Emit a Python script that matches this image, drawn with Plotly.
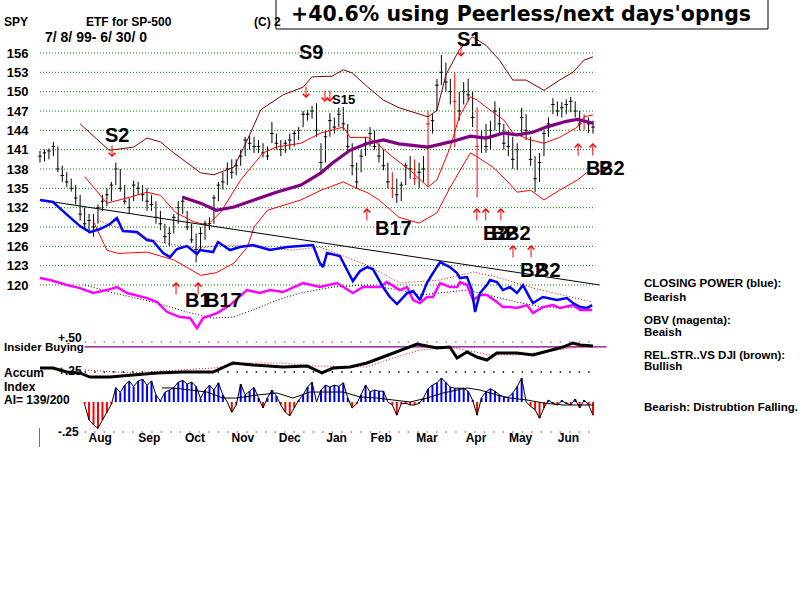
import plotly.graph_objects as go

FONT = "Liberation Sans, Arial, sans-serif"
TITLE_FONT = "DejaVu Sans, Liberation Sans, sans-serif"

# ---------------- data ----------------
# price bars: one bar every 2 trading days (day index 0 = 7/8/99)
bar_day = list(range(0, 249, 2))
bar_high = [140.8,141.0,141.2,142.2,141.5,138.5,137.5,136.5,135.5,134.0,
            132.0,131.0,131.0,132.5,134.0,135.0,136.0,139.0,138.0,135.5,
            133.5,136.2,136.0,135.5,135.0,134.0,133.0,131.5,129.5,129.0,
            131.0,133.0,133.8,131.5,129.5,128.0,129.0,130.0,130.5,134.0,
            136.0,137.5,139.0,139.5,139.5,141.0,143.0,143.2,143.0,142.5,
            142.0,141.5,145.3,143.5,142.5,142.5,143.5,144.0,144.5,147.0,
            147.2,147.8,148.2,142.0,144.0,146.7,146.0,147.5,147.6,145.0,
            142.0,139.0,141.0,143.0,144.5,144.0,142.0,141.0,139.0,137.5,
            136.5,136.0,139.0,140.0,139.5,139.0,140.0,147.0,146.5,152.0,
            155.7,154.5,152.0,153.0,150.0,151.5,152.0,150.0,147.6,144.0,
            145.0,145.5,148.5,147.5,145.0,144.0,143.0,142.0,147.5,146.5,
            143.0,140.0,140.5,144.0,146.0,149.0,148.5,148.4,148.8,149.2,
            148.5,147.0,146.5,146.0,145.5]
bar_low = [139.0,139.2,139.5,140.0,137.5,136.0,135.2,134.5,132.5,130.0,
           128.5,128.0,127.5,129.5,131.5,132.2,133.0,135.5,134.5,132.5,
           131.0,133.0,134.0,133.0,131.5,131.5,129.5,128.5,126.5,126.0,
           128.0,129.5,131.0,128.5,126.5,123.5,125.5,127.0,128.5,129.5,
           133.0,134.8,135.5,136.5,137.0,138.5,140.0,141.0,140.5,140.5,
           139.8,139.4,142.0,141.0,140.0,140.5,141.0,141.5,142.5,144.5,
           145.5,145.8,143.0,137.5,139.0,143.0,143.5,144.5,144.0,140.5,
           137.0,135.0,137.5,140.0,141.5,141.0,139.0,137.8,135.0,133.5,
           132.7,133.0,135.5,136.5,135.5,135.0,136.0,135.2,143.5,147.0,
           151.0,150.0,148.0,141.4,145.5,148.0,148.5,144.5,133.6,140.5,
           140.5,141.0,144.0,143.5,141.0,140.0,138.0,137.8,143.0,142.5,
           138.5,134.4,136.0,140.0,143.0,146.5,146.2,146.0,146.5,146.8,
           146.0,144.0,144.0,143.6,143.5]
bar_close = [140.0,140.5,140.8,141.5,138.0,137.0,136.0,135.0,133.5,131.0,
             129.5,130.0,129.0,132.0,133.0,134.0,135.5,138.0,135.0,133.0,
             132.0,135.5,135.0,134.0,133.0,132.5,130.5,129.5,127.5,128.0,
             130.5,132.0,133.0,129.0,127.0,125.5,128.0,129.5,129.5,133.5,
             135.5,136.0,138.0,137.5,138.5,140.0,142.5,142.0,141.5,141.5,
             140.5,140.0,143.5,142.0,141.0,142.0,142.5,143.5,144.0,146.5,
             146.5,147.0,144.0,139.0,143.0,145.5,144.5,146.5,145.0,141.5,
             138.5,136.0,140.0,142.0,143.5,141.5,140.0,138.5,136.0,135.0,
             134.0,135.5,138.5,138.0,136.5,137.5,138.0,145.0,145.5,151.0,
             153.0,151.5,150.0,148.5,147.0,150.0,149.5,146.0,141.5,143.0,
             141.5,144.0,147.0,145.0,142.0,141.5,139.5,141.0,146.0,144.0,
             139.5,136.5,139.0,143.5,145.0,148.0,147.0,147.5,148.0,148.5,
             147.0,145.0,145.5,145.0,144.5]
signal_bar_idx = [79, 84, 87, 93, 98, 122]

price_ticks = [120, 123, 126, 129, 132, 135, 138, 141, 144, 147, 150, 153, 156]
month_labels = ["Aug", "Sep", "Oct", "Nov", "Dec", "Jan", "Feb", "Mar", "Apr", "May", "Jun"]
month_day = [27, 49, 69.5, 91, 112, 133, 153, 173.5, 195.5, 215.5, 237]

upper_band_day = [18,31,42,48,54,60,72,78,87,93,99,109,118,122,131,136,140,147,154,161,
                  174,178,182,188,194,200,206,212,218,226,233,239,244,248]
upper_band = [145.0,140.9,141.4,142.8,142.2,140.5,137.4,137.1,138.3,142.5,147.2,149.5,150.7,
              152.3,152.4,153.4,152.9,150.7,148.7,147.5,146.1,147.1,152.6,156.5,158.5,157.2,
              154.9,151.8,151.8,150.2,151.8,153.0,154.9,155.4]
mid_band_day = [20,30,40,48,54,61,69,75,81,90,100,106,117,126,136,139,147,151,158,166,
                174,178,184,188,193,196,200,208,212,220,226,233,241,244,248]
mid_band = [136.8,132.7,133.6,134.4,133.9,131.2,129.8,129.3,131.3,136.3,140.5,141.4,142.0,
            143.6,144.5,142.9,142.9,142.0,139.9,137.8,135.2,136.3,141.4,146.1,149.2,148.7,
            147.6,145.6,143.6,142.5,142.0,142.9,144.5,146.1,146.4]
lower_band_day = [24,30,35,48,60,72,79,87,93,96,102,117,126,136,142,147,152,161,170,178,
                  184,193,196,203,209,214,220,226,233,241,245,248]
lower_band = [129.8,125.4,124.9,125.1,123.9,121.5,121.9,123.4,125.9,129.0,131.6,133.2,134.7,
              136.0,135.0,134.3,133.2,130.5,129.6,131.2,135.2,140.5,139.9,138.3,136.3,134.4,
              134.7,133.2,134.7,136.3,137.4,137.5]
long_ma_day = [64,72,79,87,96,106,117,126,131,139,147,154,161,174,184,193,200,208,214,221,
               227,236,241,248]
long_ma = [133.6,132.7,131.6,132.1,133.2,134.4,135.5,137.4,138.9,140.9,142.0,142.5,141.9,
           141.4,142.2,143.1,142.8,143.6,143.3,143.7,144.5,145.4,145.7,145.1]
trend_day = [0, 251]
trend_value = [133.2, 120.0]

cp_day = [0,5.8,10.3,17.9,22.4,26.9,31.4,34.5,37.2,43.5,48.0,50.7,55.2,58.3,61.4,65.9,70.4,
          71.7,77.6,79.8,85.2,89.7,95.5,103.1,110.8,119.7,122.4,125.5,126.9,128.7,134.5,137.7,
          140.3,143.5,146.6,149.3,153.8,156.9,160.1,164.6,167.3,170.4,173.5,176.2,179.4,183.8,
          187.0,188.3,191.5,193.7,195.1,197.3,200.4,201.8,204.9,207.6,210.7,213.9,216.6,219.7,
          221.1,225.5,231.8,236.3,239.0,242.2,245.3,247.6]
closing_power = [133.18,132.87,131.47,129.14,128.21,128.68,129.46,130.39,128.37,128.21,126.97,
                 126.82,124.95,124.33,125.58,126.04,124.80,125.42,125.11,126.66,125.42,125.89,
                 126.20,125.42,125.89,126.20,126.20,123.40,122.78,124.95,124.49,122.32,120.61,
                 122.16,122.78,122.47,119.68,118.13,117.04,118.75,119.06,117.66,120.30,121.85,
                 123.56,122.78,121.85,121.07,121.23,119.21,115.80,118.75,119.99,120.77,120.46,
                 119.21,119.68,118.75,119.99,117.97,117.19,118.13,117.66,117.97,117.19,116.57,
                 116.42,116.88]
cp_ma_day = [25.6,40.4,55.2,70.4,85.2,113.5,125.5,146.6,161.4,179.4,194.2,204.9,221.1,247.6]
cp_ma = [130.08,128.21,126.51,125.73,126.20,125.42,125.89,123.09,120.30,120.77,122.01,121.23,
         119.52,117.35]

obv_day = [0,4.5,12.1,17.9,23.8,30.0,34.5,39.0,48.0,52.5,57.0,62.8,67.3,70.4,73.1,79.4,85.2,
           92.8,98.6,103.1,109.0,117.9,125.5,133.2,140.3,144.8,152.5,155.6,161.4,164.6,167.3,
           170.4,173.5,176.2,179.4,183.8,187.0,188.3,191.5,194.2,197.3,200.4,204.9,207.6,210.7,
           213.9,218.4,221.1,225.5,230.0,233.2,239.0,242.2,247.6]
obv = [121.07,120.77,119.99,119.52,118.75,119.21,119.68,118.75,117.97,117.35,115.80,115.02,
       114.87,113.31,114.87,115.64,116.88,119.21,118.75,119.21,118.90,120.30,119.68,120.30,
       118.75,119.68,119.68,120.45,119.21,119.68,117.66,117.19,118.13,118.13,120.30,119.68,
       119.68,120.45,119.99,117.66,118.44,118.44,117.35,116.57,116.57,116.42,116.88,115.64,
       116.57,116.88,116.42,116.88,116.10,116.10]
obv_ma_day = [20.2,31.4,52.5,65.9,77.6,86.5,95.5,106.3,116.6,131.4,146.6,161.4,170.4,191.5,
              213.9,225.5,247.6]
obv_ma = [119.99,118.90,117.19,115.80,114.87,115.02,116.11,117.66,118.75,119.68,119.99,119.21,
          118.44,119.21,117.35,116.57,116.42]

# lower panel
rs_day = [0,5.8,12.1,17.9,22.4,31.4,41.7,52.5,64.1,77.6,86.5,95.5,109.0,119.7,126.4,131.4,
          139.0,146.6,153.8,160.1,169.1,178.0,183.8,187.0,191.5,195.9,200.4,204.9,213.9,221.1,
          228.7,234.5,239.0,242.2,248.0]
rel_strength = [0.283,0.283,0.25,0.242,0.208,0.208,0.225,0.242,0.25,0.25,0.325,0.308,0.292,
                0.30,0.242,0.283,0.292,0.325,0.375,0.417,0.483,0.45,0.458,0.367,0.417,0.375,
                0.35,0.408,0.408,0.392,0.433,0.458,0.492,0.475,0.467]
rs_ma_day = [20.2,40.4,62.8,77.6,92.8,107.7,122.4,146.6,158.3,170.4,183.8,195.9,201.8,213.9,
             225.5,240.8,248.0]
rs_ma = [0.267,0.242,0.267,0.283,0.325,0.325,0.30,0.292,0.367,0.433,0.458,0.417,0.392,0.392,
         0.417,0.458,0.467]
insider_day = [20, 254]
insider_level = [0.46, 0.46]
ref_levels = [0.50, 0.25, -0.25]
ref_span = [20, 249]

ai_day = list(range(20, 249, 2))
accum_index = [-0.02,-0.15,-0.19,-0.22,-0.15,-0.09,-0.02,0.12,0.08,0.14,
               0.175,0.13,0.175,0.19,0.14,0.175,0.06,0.01,0.08,0.10,
               0.12,0.165,0.18,0.15,0.165,0.13,0.03,0.10,0.14,0.10,
               0.16,0.06,0.0,-0.085,-0.025,0.15,0.06,0.09,0.12,0.035,
               -0.05,0.035,0.10,0.05,-0.025,-0.085,-0.115,-0.05,0.015,0.06,
               0.125,0.165,0.0,0.10,0.14,0.125,0.14,0.13,0.16,0.035,
               -0.05,-0.015,0.06,0.14,0.085,0.10,0.09,0.09,0.0,-0.025,
               -0.11,-0.015,-0.01,-0.025,-0.025,-0.01,0.035,0.11,0.14,0.16,
               0.20,0.165,0.125,0.115,0.115,0.115,0.09,0.015,-0.11,0.035,
               0.085,0.11,0.09,0.06,0.04,0.04,0.075,0.13,0.20,0.0,
               -0.035,-0.065,-0.135,-0.05,0.015,-0.01,-0.025,0.01,-0.01,-0.025,
               0.025,-0.05,0.015,-0.025,-0.11]
ai_ma_day = [54.7,59.6,67.3,74.9,82.1,88.3,97.3,106.3,113.4,121.1,135.9,143.5,151.1,158.3,
             165.9,173.5,180.7,191.5,197.3,204.9,210.7,218.4,225.5,234.5,248.0]
ai_ma = [0.117,0.117,0.10,0.083,0.033,0.033,0.058,0.075,0.033,0.083,0.083,0.042,0.033,0.017,
         0.0,0.033,0.075,0.117,0.10,0.058,0.033,0.017,-0.008,-0.025,-0.025]

# signals
sell_day = [32.3, 119.3, 127.8, 130.0, 188.8]
sell_tip = [139.85, 149.0, 148.4, 148.4, 155.4]
buy_day = [61.0, 70.9, 146.6, 195.9, 199.9, 206.7, 212.1, 220.2, 241.3, 247.9]
buy_tip = [120.45, 120.45, 131.94, 131.94, 131.94, 131.94, 126.2, 126.2, 142.03, 142.03]
signal_text = ["S2", "S9", "S15", "S1", "B17", "B1", "B17",
               "B2", "B2", "B2", "B2", "B2", "B2", "B2"]
signal_day = [28.2, 115.2, 130.0, 186.1, 149.3, 64.1, 73.1,
              197.6, 201.2, 207.5, 214.3, 221.1, 243.9, 249.8]
signal_level = [143.27, 156.15, 148.86, 158.17, 128.83, 117.66, 117.66,
                128.06, 128.06, 128.06, 122.3, 122.3, 138.15, 138.15]

# ---------------- figure ----------------
W, H = 800, 600
def px(x):
    return x / W
def py(y):
    return 1 - y / H

fig = go.Figure()

# dotted price grid
for lv in price_ticks:
    fig.add_trace(go.Scatter(x=[bar_day[0], 249], y=[lv, lv], mode="lines",
                             line=dict(color="#008000", width=1, dash="1px,2px"),
                             hoverinfo="skip"))

# bands and trend
fig.add_trace(go.Scatter(x=upper_band_day, y=upper_band, mode="lines",
                         line=dict(color="#800000", width=1)))
fig.add_trace(go.Scatter(x=mid_band_day, y=mid_band, mode="lines",
                         line=dict(color="#ff0000", width=1)))
fig.add_trace(go.Scatter(x=lower_band_day, y=lower_band, mode="lines",
                         line=dict(color="#ff0000", width=1)))
fig.add_trace(go.Scatter(x=trend_day, y=trend_value, mode="lines",
                         line=dict(color="black", width=1)))

# closing power / OBV
fig.add_trace(go.Scatter(x=cp_ma_day, y=cp_ma, mode="lines",
                         line=dict(color="#ff0000", width=1, dash="1px,2px")))
fig.add_trace(go.Scatter(x=obv_ma_day, y=obv_ma, mode="lines",
                         line=dict(color="black", width=1, dash="1px,2px")))
fig.add_trace(go.Scatter(x=obv_day, y=obv, mode="lines",
                         line=dict(color="#ff00ff", width=2.5)))
fig.add_trace(go.Scatter(x=cp_day, y=closing_power, mode="lines",
                         line=dict(color="#0000ff", width=2.5)))

# price bars
blk = [i for i in range(len(bar_day)) if i not in signal_bar_idx]
red = signal_bar_idx
for idx, col in ((blk, "black"), (red, "#ff0000")):
    fig.add_trace(go.Ohlc(
        x=[bar_day[i] for i in idx],
        open=[bar_close[i] for i in idx],
        high=[bar_high[i] for i in idx],
        low=[bar_low[i] for i in idx],
        close=[bar_close[i] for i in idx],
        increasing=dict(line=dict(color=col, width=1)),
        decreasing=dict(line=dict(color=col, width=1)),
        tickwidth=0.4, hoverinfo="skip"))

fig.add_trace(go.Scatter(x=long_ma_day, y=long_ma, mode="lines",
                         line=dict(color="#800080", width=3.2)))

# lower panel
for lv, col in zip(ref_levels, ["#c07070", "black", "#c07070"]):
    fig.add_trace(go.Scatter(x=ref_span, y=[lv, lv], mode="lines", yaxis="y2",
                             line=dict(color=col, width=1.5, dash="1.5px,8px")))
fig.add_trace(go.Scatter(x=insider_day, y=insider_level, mode="lines", yaxis="y2",
                         line=dict(color="#800080", width=1.2)))
fig.add_trace(go.Scatter(x=rs_ma_day, y=rs_ma, mode="lines", yaxis="y2",
                         line=dict(color="#ff0000", width=1, dash="1px,2px")))
fig.add_trace(go.Scatter(x=rs_day, y=rel_strength, mode="lines", yaxis="y2",
                         line=dict(color="black", width=3)))
fig.add_trace(go.Bar(x=ai_day, y=accum_index, yaxis="y2", width=0.9,
                     marker=dict(color=["#0000ff" if v >= 0 else "#ff0000" for v in accum_index],
                                 line=dict(width=0))))
fig.add_trace(go.Scatter(x=ai_day, y=accum_index, mode="lines", yaxis="y2",
                         line=dict(color="black", width=1)))
fig.add_trace(go.Scatter(x=ai_ma_day, y=ai_ma, mode="lines", yaxis="y2",
                         line=dict(color="black", width=1)))

ann = []
def txt(s, x, y, size=12, anchor="left", bold=True, family=FONT):
    ann.append(dict(text=s, x=px(x), y=py(y), xref="paper", yref="paper", showarrow=False,
                    xanchor=anchor, yanchor="middle",
                    font=dict(family=family, size=size, color="black",
                              weight="bold" if bold else "normal")))

# header
txt("SPY", 2, 22)
txt("ETF for SP-500", 84, 22)
txt("(C) 2", 252, 22)
txt("7/ 8/ 99- 6/ 30/ 0", 43, 37, size=14)
txt("+40.6% using Peerless/next days'opngs", 521, 14, size=20.5, anchor="center",
    family=TITLE_FONT)

# lower panel labels
txt("+.50", 56, 338, size=12)
txt("Insider Buying", 2, 347, size=11.5)
txt("+.25", 56, 371, size=12)
txt("Accum", 2, 373, size=12)
txt("Index", 2, 387, size=12)
txt("AI= 139/200", 2, 400, size=12)
txt("-.25", 56, 432, size=12)

# right side commentary
for s, y in [("CLOSING POWER (blue):", 283), ("Bearish", 297), ("OBV (magenta):", 320),
             ("Beaish", 332), ("REL.STR..VS DJI (brown):", 355), ("Bullish", 366),
             ("Bearish: Distrubtion Falling.", 407)]:
    txt(s, 642, y, size=11.5)

# signal arrows
for d, v in zip(sell_day, sell_tip):
    ann.append(dict(x=d, y=v, xref="x", yref="y", text="", showarrow=True, ax=0, ay=-13,
                    arrowhead=4, arrowsize=1.3, arrowwidth=1, arrowcolor="#ff0000"))
for d, v in zip(buy_day, buy_tip):
    ann.append(dict(x=d, y=v, xref="x", yref="y", text="", showarrow=True, ax=0, ay=14,
                    arrowhead=4, arrowsize=1.3, arrowwidth=1, arrowcolor="#ff0000"))
for s, d, v in zip(signal_text, signal_day, signal_level):
    ann.append(dict(x=d, y=v, xref="x", yref="y", text=s, showarrow=False,
                    xanchor="left", yanchor="middle",
                    font=dict(family=FONT, size=13 if s == "S15" else 20, color="black",
                              weight="bold")))

fig.update_layout(
    width=W, height=H, margin=dict(l=0, r=0, t=0, b=0),
    paper_bgcolor="white", plot_bgcolor="white", showlegend=False,
    xaxis=dict(domain=[0, 1], range=[-40 / 2.23, 760 / 2.23], anchor="free",
               position=py(429), showgrid=False, zeroline=False, showline=False,
               ticks="", tickvals=month_day, ticktext=month_labels,
               tickfont=dict(family=FONT, size=12, color="black", weight="bold"),
               rangeslider=dict(visible=False), fixedrange=True),
    yaxis=dict(domain=[0, 1], range=[71.115, 164.225], anchor="free", position=px(40),
               showgrid=False, zeroline=False, showline=False,
               tickvals=price_ticks, ticktext=[str(t) for t in price_ticks],
               ticks="outside", ticklen=9, tickcolor="rgba(0,0,0,0)",
               tickfont=dict(family=FONT, size=13, color="black", weight="bold")),
    yaxis2=dict(domain=[0, 1], range=[-1.65, 3.35], overlaying="y", visible=False),
    annotations=ann,
    shapes=[
        dict(type="rect", xref="paper", yref="paper", x0=px(276), x1=px(768),
             y0=py(29), y1=py(-1), line=dict(color="black", width=1), fillcolor="white",
             layer="above"),
        dict(type="line", xref="paper", yref="paper", x0=px(39.5), x1=px(39.5),
             y0=py(428), y1=py(447), line=dict(color="#808000", width=1)),
    ],
)

fig.write_html("out.html", config={"displayModeBar": False},
               post_script="document.body.style.margin='0px';document.body.style.padding='0px';")
